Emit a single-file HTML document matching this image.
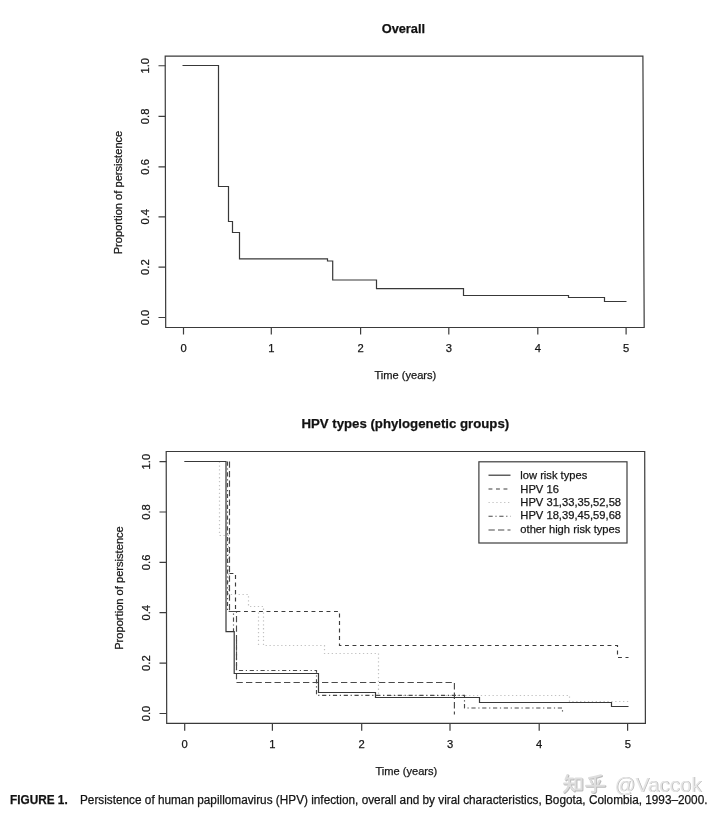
<!DOCTYPE html>
<html>
<head>
<meta charset="utf-8">
<title>Figure 1</title>
<style>
  html, body { margin: 0; padding: 0; background: #ffffff; }
  body { width: 720px; height: 813px; overflow: hidden; position: relative;
         font-family: "Liberation Sans", sans-serif; }
  svg { position: absolute; left: 0; top: 0; display: block; filter: grayscale(1); }
  text { font-family: "Liberation Sans", sans-serif; fill: #161616; stroke: #161616; stroke-width: 0.25px; }
  .ttl { font-weight: bold; font-size: 13.4px; fill: #111; }
  .ax  { font-size: 11.2px; }
  .lg  { font-size: 11.2px; }
  .frame { fill: none; stroke: #3a3a3a; stroke-width: 1.2; }
  .tick  { fill: none; stroke: #3c3c3c; stroke-width: 1.2; }
  .cv    { fill: none; stroke: #383838; stroke-width: 1.2; stroke-linejoin: miter; }
  .cap   { font-size: 12.3px; fill: #111; }
</style>
</head>
<body>
<svg width="720" height="813" viewBox="0 0 720 813">
  <rect x="0" y="0" width="720" height="813" fill="#ffffff"/>

  <!-- ================= PLOT 1 ================= -->
  <text class="ttl" x="403.4" y="33" text-anchor="middle" textLength="43.4" lengthAdjust="spacingAndGlyphs">Overall</text>
  <polygon class="frame" points="165.2,56.1 642.9,56.1 644.2,327.5 165.7,327.5"/>
  <!-- y ticks -->
  <path class="tick" d="M158.5,65.75H165.5 M158.5,116.4H165.5 M158.5,166.9H165.5 M158.5,216.8H165.5 M158.5,267.1H165.5 M158.5,317.5H165.5"/>
  <!-- x ticks -->
  <path class="tick" d="M183.5,327.5V334.5 M271.3,327.5V334.5 M360.6,327.5V334.5 M448.8,327.5V334.5 M537.8,327.5V334.5 M626.1,327.5V334.5"/>
  <!-- y tick labels -->
  <g class="ax" text-anchor="middle">
    <text transform="translate(148.7,65.75) rotate(-90)">1.0</text>
    <text transform="translate(148.7,116.4) rotate(-90)">0.8</text>
    <text transform="translate(148.7,166.9) rotate(-90)">0.6</text>
    <text transform="translate(148.7,216.8) rotate(-90)">0.4</text>
    <text transform="translate(148.7,267.1) rotate(-90)">0.2</text>
    <text transform="translate(148.7,317.5) rotate(-90)">0.0</text>
    <text x="183.5" y="352.3">0</text>
    <text x="271.3" y="352.3">1</text>
    <text x="360.6" y="352.3">2</text>
    <text x="448.8" y="352.3">3</text>
    <text x="537.8" y="352.3">4</text>
    <text x="626.1" y="352.3">5</text>
    <text x="405.4" y="379.3" textLength="61.8" lengthAdjust="spacingAndGlyphs">Time (years)</text>
    <text transform="translate(121.6,192.5) rotate(-90)" textLength="123.6" lengthAdjust="spacingAndGlyphs">Proportion of persistence</text>
  </g>
  <!-- curve -->
  <path class="cv" d="M182.5,65.5H218.5V186.5H228.5V221.5H232.5V232.5H239.5V258.8H327.5V261H332.7V280H376.5V288.7H463.5V295.5H568.5V297.5H604.5V301.5H626.5"/>

  <!-- ================= PLOT 2 ================= -->
  <text class="ttl" x="405.3" y="428.1" text-anchor="middle" textLength="207.7" lengthAdjust="spacingAndGlyphs">HPV types (phylogenetic groups)</text>
  <polygon class="frame" points="166.2,451.5 644.7,451.5 645.4,723.3 166.7,723.3" style="stroke-width:1.2"/>
  <path class="tick" d="M159.5,461.6H166.5 M159.5,512H166.5 M159.5,562.4H166.5 M159.5,612.7H166.5 M159.5,663.1H166.5 M159.5,713.5H166.5"/>
  <path class="tick" d="M184.7,723.5V730.8 M272.4,723.5V730.8 M361.7,723.5V730.8 M450,723.5V730.8 M539.2,723.5V730.8 M627.6,723.5V730.8"/>
  <g class="ax" text-anchor="middle">
    <text transform="translate(149.7,461.6) rotate(-90)">1.0</text>
    <text transform="translate(149.7,512) rotate(-90)">0.8</text>
    <text transform="translate(149.7,562.4) rotate(-90)">0.6</text>
    <text transform="translate(149.7,612.7) rotate(-90)">0.4</text>
    <text transform="translate(149.7,663.1) rotate(-90)">0.2</text>
    <text transform="translate(149.7,713.5) rotate(-90)">0.0</text>
    <text x="184.7" y="748">0</text>
    <text x="272.4" y="748">1</text>
    <text x="361.7" y="748">2</text>
    <text x="450" y="748">3</text>
    <text x="539.2" y="748">4</text>
    <text x="627.8" y="748">5</text>
    <text x="406.4" y="775" textLength="61.8" lengthAdjust="spacingAndGlyphs">Time (years)</text>
    <text transform="translate(122.6,588) rotate(-90)" textLength="123.6" lengthAdjust="spacingAndGlyphs">Proportion of persistence</text>
  </g>

  <!-- dotted: HPV 31,33,35,52,58 (light) -->
  <path d="M219.5,461.5V535.5H228.5V594.5H248.5V606.5H263.5V645.5H324.5V653.5H378.5V695.5H569.5V701.5H628.5 M258.5,612.5V645.5"
        fill="none" stroke="#c2c2c2" stroke-width="1.2" stroke-dasharray="1.3 2.6"/>
  <!-- dash-dot: HPV 18,39,45,59,68 -->
  <path d="M227.5,461.5V611.5H233.5V631.5 M236.5,640.5V670.5H316.5V695.3H464.5V708H562.5V713.5"
        fill="none" stroke="#4a4a4a" stroke-width="1.15" stroke-dasharray="4.2 2.7 1.2 2.7"/>
  <!-- long dash: other high risk types -->
  <path d="M229.5,461.5V611.5H236.5V682.5H454.4V714.5"
        fill="none" stroke="#4a4a4a" stroke-width="1.15" stroke-dasharray="6.3 3.2"/>
  <!-- short dash: HPV 16 -->
  <path d="M229.5,573.5H235.5V611.5H339.5V645.5H617.5V657.5H628.5"
        fill="none" stroke="#3c3c3c" stroke-width="1.15" stroke-dasharray="3.9 3.6"/>
  <!-- solid: low risk types -->
  <path class="cv" d="M184.3,461.5H226V631.7H234.2V673.5H318.5V692.5H375.5V697.5H479.5V702.5H611.5V706.5H628.5"/>

  <!-- legend -->
  <rect x="478.9" y="461.8" width="148.1" height="81.2" fill="#ffffff" stroke="#3c3c3c" stroke-width="1.2"/>
  <path d="M488.5,475.2H510.5" class="cv"/>
  <path d="M488.5,489H510.5" fill="none" stroke="#3c3c3c" stroke-width="1.15" stroke-dasharray="3.9 3.6"/>
  <path d="M488.5,502.5H510.5" fill="none" stroke="#c2c2c2" stroke-width="1.2" stroke-dasharray="1.3 2.6"/>
  <path d="M488.5,516.2H510.5" fill="none" stroke="#4a4a4a" stroke-width="1.15" stroke-dasharray="4.2 2.7 1.2 2.7"/>
  <path d="M488.5,530H510.5" fill="none" stroke="#4a4a4a" stroke-width="1.15" stroke-dasharray="6.3 3.2"/>
  <g class="lg">
    <text x="520.3" y="478.6" textLength="67" lengthAdjust="spacingAndGlyphs">low risk types</text>
    <text x="520.3" y="493.2">HPV 16</text>
    <text x="520.3" y="506" textLength="100.8" lengthAdjust="spacingAndGlyphs">HPV 31,33,35,52,58</text>
    <text x="520.3" y="519.4" textLength="100.8" lengthAdjust="spacingAndGlyphs">HPV 18,39,45,59,68</text>
    <text x="520.3" y="532.7">other high risk types</text>
  </g>

  <!-- watermark -->
  <g fill="none" stroke-linecap="round" stroke-linejoin="round">
    <g transform="translate(563.8,774.3)" stroke="#b9b9b9" stroke-width="2.3">
      <path d="M4.5,1.5L2.5,6 M3,5H10 M1,10H11 M6.2,5V10Q5.5,15 1,18.5 M6.6,11Q8,15 11,17 M12.5,5H18.5V16H12.5Z"/>
      <path transform="translate(22,0)" d="M16,1.8Q10,3.8 4,4.4 M5.5,7L7,10 M14.5,7L13,10 M1,12.2H19.5 M10.2,4.5V17Q10.2,19.2 6.8,18.2"/>
    </g>
    <g transform="translate(563,773.5)" stroke="#dedede" stroke-width="2">
      <path d="M4.5,1.5L2.5,6 M3,5H10 M1,10H11 M6.2,5V10Q5.5,15 1,18.5 M6.6,11Q8,15 11,17 M12.5,5H18.5V16H12.5Z"/>
      <path transform="translate(22,0)" d="M16,1.8Q10,3.8 4,4.4 M5.5,7L7,10 M14.5,7L13,10 M1,12.2H19.5 M10.2,4.5V17Q10.2,19.2 6.8,18.2"/>
    </g>
  </g>
  <text x="615.3" y="792.2" font-size="20.5" textLength="87" lengthAdjust="spacingAndGlyphs" style="fill:#b4b4b4;stroke:none">@Vaccok</text>
  <text x="614.5" y="791.5" font-size="20.5" textLength="87" lengthAdjust="spacingAndGlyphs" style="fill:#e6e6e6;stroke:none">@Vaccok</text>

  <!-- caption -->
  <text class="cap" x="10" y="803.6" font-weight="bold" textLength="57.7" lengthAdjust="spacingAndGlyphs">FIGURE 1.</text>
  <text class="cap" x="80" y="803.6" textLength="627.5" lengthAdjust="spacingAndGlyphs">Persistence of human papillomavirus (HPV) infection, overall and by viral characteristics, Bogota, Colombia, 1993–2000.</text>
</svg>
</body>
</html>
